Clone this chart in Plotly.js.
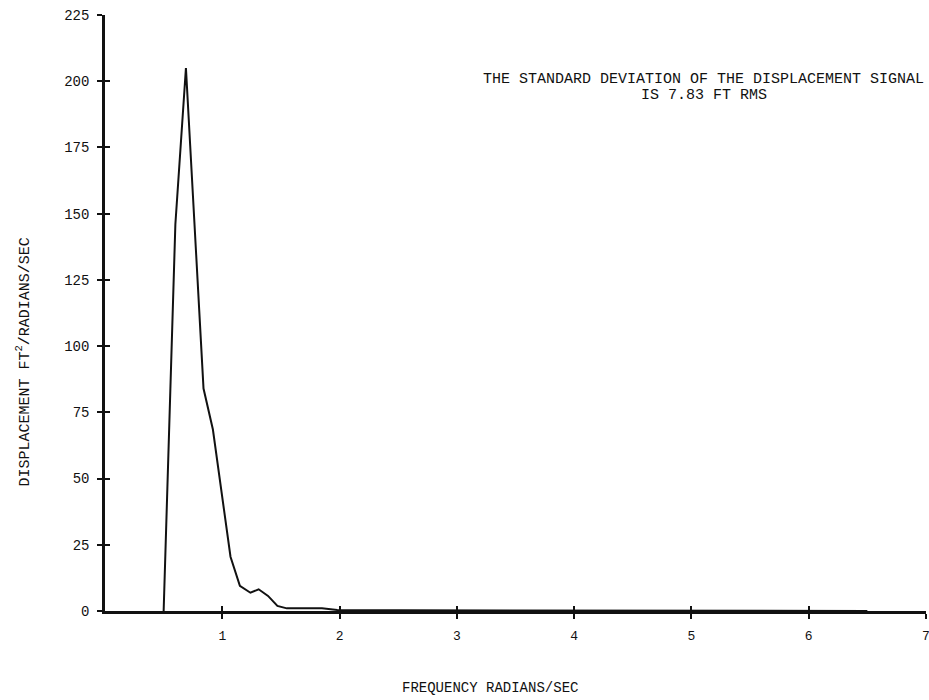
<!DOCTYPE html>
<html>
<head>
<meta charset="utf-8">
<script src="https://cdn.plot.ly/plotly-3.0.1.min.js"></script>
<style>html,body{margin:0;padding:0;background:#fff;}#chart{width:929px;height:700px;}</style>
</head>
<body>
<div id="chart"></div>
<script>
// Frequency (radians/sec) and displacement spectral density (ft^2 / rad/sec)
var frequency = [0.50, 0.60, 0.69, 0.84, 0.92, 1.00, 1.07, 1.15, 1.24, 1.31, 1.39, 1.47, 1.55, 1.85, 1.98, 2.5, 3.0, 3.5, 4.0, 4.5, 5.0, 5.5, 6.0, 6.5];
var displacement = [0, 146, 205, 84, 68.5, 42, 20.5, 9.5, 6.9, 8.2, 5.7, 1.9, 1.0, 1.0, 0.4, 0.3, 0.25, 0.2, 0.2, 0.2, 0.15, 0.1, 0.1, 0.0];
var xTicks = [1, 2, 3, 4, 5, 6, 7];
var yTicks = [0, 25, 50, 75, 100, 125, 150, 175, 200, 225];
var noteLine1 = "THE STANDARD DEVIATION OF THE DISPLACEMENT SIGNAL";
var noteLine2 = "IS 7.83 FT RMS";
var xTitle = "FREQUENCY RADIANS/SEC";
var yTitle = "DISPLACEMENT FT<sup>2</sup>/RADIANS/SEC";

var FONT = '"Liberation Mono", "Courier New", monospace';
var INK = '#111';

var traces = [{
  x: frequency, y: displacement, type: 'scatter', mode: 'lines',
  line: {color: INK, width: 2}, hoverinfo: 'x+y', showlegend: false
}, {
  x: [0], y: [0], xaxis: 'x2', yaxis: 'y2', type: 'scatter', mode: 'markers',
  marker: {opacity: 0}, hoverinfo: 'skip', showlegend: false
}];

var layout = {
  width: 929, height: 700,
  margin: {l: 105, r: 3, t: 15, b: 89},
  paper_bgcolor: '#fff', plot_bgcolor: '#fff',
  font: {family: FONT, color: INK, size: 14},
  xaxis: {
    range: [0, 7], tickvals: xTicks, ticktext: xTicks.map(String),
    showgrid: false, zeroline: false, showline: true, linecolor: INK, linewidth: 2.5,
    ticks: 'outside', ticklen: 5, tickwidth: 2, tickcolor: INK,
    ticklabelstandoff: 6, ticklabeloverflow: 'allow',
    tickfont: {family: FONT, size: 13, color: INK}
  },
  yaxis: {
    range: [0, 225], tickvals: yTicks, ticktext: yTicks.map(String),
    showgrid: false, zeroline: false, showline: true, linecolor: INK, linewidth: 2.5,
    ticks: 'outside', ticklen: 5, tickwidth: 2, tickcolor: INK,
    ticklabelstandoff: 5,
    tickfont: {family: FONT, size: 14, color: INK}
  },
  xaxis2: {
    overlaying: 'x', anchor: 'y2', range: [0, 7], tickvals: xTicks,
    showticklabels: false, showgrid: false, zeroline: false, showline: false,
    ticks: 'inside', ticklen: 5, tickwidth: 2, tickcolor: INK, side: 'bottom'
  },
  yaxis2: {
    overlaying: 'y', anchor: 'x2', range: [0, 225], tickvals: yTicks,
    showticklabels: false, showgrid: false, zeroline: false, showline: false,
    ticks: 'inside', ticklen: 5, tickwidth: 2, tickcolor: INK, side: 'left'
  },
  annotations: [{
    xref: 'paper', yref: 'paper', x: 0.729, y: 0.8926, xanchor: 'center', yanchor: 'middle',
    text: noteLine1, showarrow: false, font: {family: FONT, size: 15, color: INK}
  }, {
    xref: 'paper', yref: 'paper', x: 0.729, y: 0.8641, xanchor: 'center', yanchor: 'middle',
    text: noteLine2, showarrow: false, font: {family: FONT, size: 15, color: INK}
  }, {
    xref: 'paper', yref: 'paper', x: 0.4689, y: -0.1292, xanchor: 'center', yanchor: 'middle',
    text: xTitle, showarrow: false, font: {family: FONT, size: 14, color: INK}
  }, {
    xref: 'paper', yref: 'paper', x: -0.0999, y: 0.4186, xanchor: 'center', yanchor: 'middle',
    text: yTitle, textangle: -90, showarrow: false, font: {family: FONT, size: 15, color: INK}
  }]
};

Plotly.newPlot('chart', traces, layout, {displayModeBar: false, responsive: false});
</script>
</body>
</html>
